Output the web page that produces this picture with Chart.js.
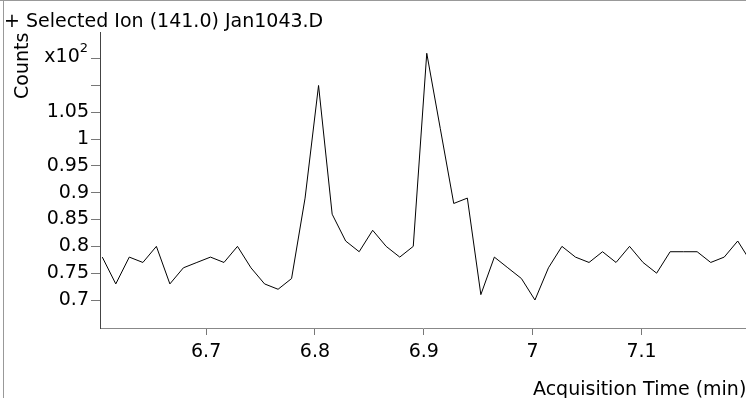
<!DOCTYPE html>
<html>
<head>
<meta charset="utf-8">
<script src="https://cdn.jsdelivr.net/npm/chart.js@4/dist/chart.umd.min.js"></script>
<style>
  html, body { margin: 0; padding: 0; background: #fff; }
  #wrap { width: 746px; height: 398px; position: relative; }
</style>
</head>
<body>
<div id="wrap"><canvas id="chrom"></canvas></div>
<script>
// Acquisition time (min) of each scan
const times = [
  6.6046, 6.6170, 6.6294, 6.6419, 6.6543, 6.6667, 6.6791, 6.6915, 6.7040, 6.7164,
  6.7288, 6.7412, 6.7537, 6.7661, 6.7785, 6.7909, 6.8033, 6.8158, 6.8282, 6.8406,
  6.8530, 6.8654, 6.8779, 6.8903, 6.9027, 6.9151, 6.9275, 6.9400, 6.9524, 6.9648,
  6.9772, 6.9897, 7.0021, 7.0145, 7.0269, 7.0393, 7.0518, 7.0642, 7.0766, 7.0890,
  7.1014, 7.1139, 7.1263, 7.1387, 7.1511, 7.1636, 7.1760, 7.1884, 7.2008
];
// Counts, in units of x10^2
const counts = [
  0.78, 0.73, 0.78, 0.77, 0.80, 0.73, 0.76, 0.77, 0.78, 0.77,
  0.80, 0.76, 0.73, 0.72, 0.74, 0.89, 1.10, 0.86, 0.81, 0.79,
  0.83, 0.80, 0.78, 0.80, 1.16, 1.02, 0.88, 0.89, 0.71, 0.78,
  0.76, 0.74, 0.70, 0.76, 0.80, 0.78, 0.77, 0.79, 0.77, 0.80,
  0.77, 0.75, 0.79, 0.79, 0.79, 0.77, 0.78, 0.81, 0.77
];
const xTicks = [6.7, 6.8, 6.9, 7.0, 7.1];
const xTickLabels = ['6.7', '6.8', '6.9', '7', '7.1'];
const yTicks = [0.7, 0.75, 0.8, 0.85, 0.9, 0.95, 1.0, 1.05, 1.1, 1.15];
const yTickLabels = ['0.7', '0.75', '0.8', '0.85', '0.9', '0.95', '1', '1.05', '', ''];
const scaleTick = 1.15;   // tick that carries the x10^2 multiplier

const FONT = '"DejaVu Sans", Verdana, sans-serif';

// draws the frame and the free-standing texts
const decorations = {
    id: 'decorations',
    afterDraw(chart) {
        const c = chart.ctx;
        c.save();
        c.strokeStyle = '#999';
        c.lineWidth = 1;
        c.beginPath();
        c.moveTo(0, 0.5); c.lineTo(746, 0.5);
        c.moveTo(3.5, 0); c.lineTo(3.5, 398);
        c.stroke();

        c.fillStyle = '#000';
        c.font = '19px ' + FONT;
        c.textBaseline = 'alphabetic';
        c.textAlign = 'left';
        c.fillText('+ Selected Ion (141.0) Jan1043.D', 4, 27);
        c.fillText('Acquisition Time (min)', 533, 395);

        // multiplier label at the top tick
        const yPix = chart.scales.y.getPixelForValue(scaleTick);
        c.textAlign = 'right';
        c.textBaseline = 'middle';
        c.font = '13px ' + FONT;
        c.fillText('2', 88, yPix - 10);
        const supW = c.measureText('2').width;
        c.font = '19px ' + FONT;
        c.fillText('x10', 88 - supW, yPix - 2);

        c.textAlign = 'left';
        c.textBaseline = 'alphabetic';
        c.translate(28, 99);
        c.rotate(-Math.PI / 2);
        c.fillText('Counts', 0, 0);
        c.restore();
    }
};

new Chart(document.getElementById('chrom').getContext('2d'), {
    type: 'line',
    data: {
        datasets: [{
            data: times.map((t, i) => ({ x: t, y: counts[i] })),
            borderColor: '#000',
            borderWidth: 1,
            pointRadius: 0,
            tension: 0,
            fill: false
        }]
    },
    options: {
        responsive: true,
        maintainAspectRatio: false,
        animation: false,
        layout: { padding: { top: 32, right: 0, left: 0, bottom: 0 } },
        plugins: {
            legend: { display: false },
            tooltip: { enabled: false },
            title: { display: false }
        },
        scales: {
            x: {
                type: 'linear',
                min: 6.6025,
                max: 7.196,
                afterFit: s => { s.height = 70; },
                afterBuildTicks: s => { s.ticks = xTicks.map(v => ({ value: v })); },
                grid: { drawOnChartArea: false, tickLength: 7, color: '#777' },
                border: { color: '#888', width: 1 },
                ticks: {
                    autoSkip: false,
                    maxRotation: 0,
                    padding: 6,
                    color: '#000',
                    font: { family: FONT, size: 19 },
                    callback: v => xTickLabels[xTicks.indexOf(Math.round(v * 10) / 10)]
                }
            },
            y: {
                type: 'linear',
                min: 0.6478,
                max: 1.1997,
                afterFit: s => { s.width = 100; },
                afterBuildTicks: s => { s.ticks = yTicks.map(v => ({ value: v })); },
                grid: { drawOnChartArea: false, tickLength: 9, color: '#777' },
                border: { color: '#444', width: 1 },
                ticks: {
                    autoSkip: false,
                    padding: 2,
                    color: '#000',
                    font: { family: FONT, size: 19 },
                    callback: v => yTickLabels[yTicks.indexOf(Math.round(v * 100) / 100)]
                }
            }
        }
    },
    plugins: [decorations]
});
</script>
</body>
</html>
